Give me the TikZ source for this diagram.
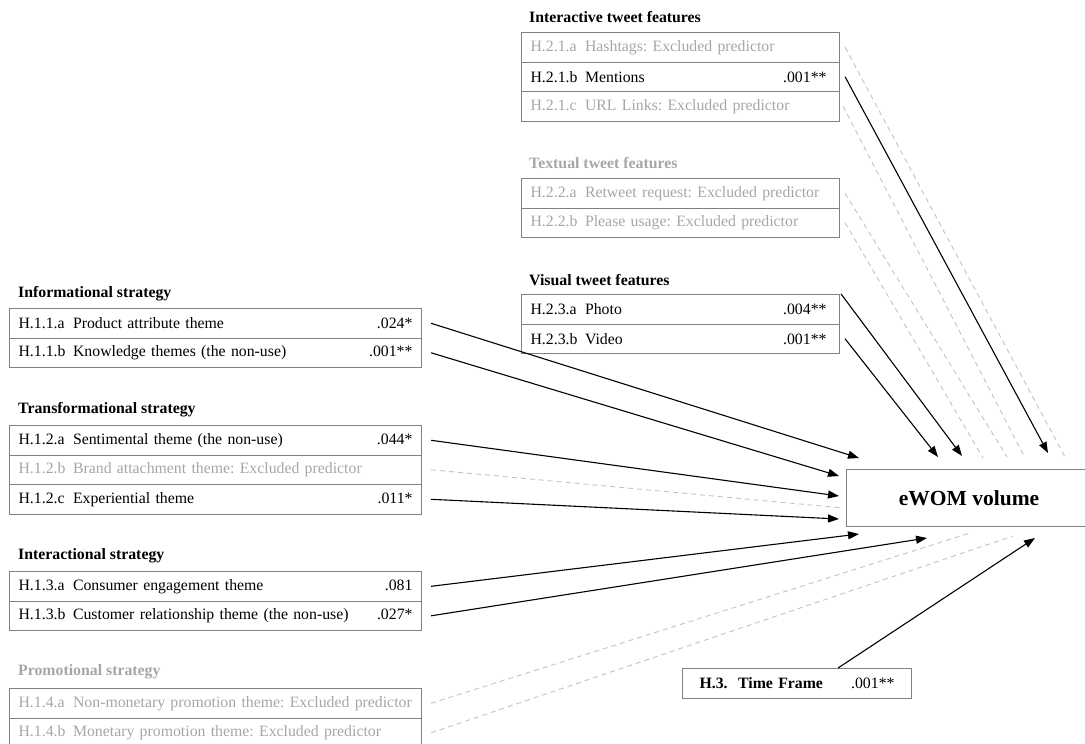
\documentclass[tikz,border=0pt]{standalone}
\usepackage{fontspec}
\setmainfont{Liberation Serif}
\usetikzlibrary{arrows.meta}
\definecolor{exclgray}{RGB}{166,166,166}
\definecolor{boxgray}{RGB}{128,128,128}
\definecolor{dashgray}{RGB}{195,195,195}
\newcommand{\hcode}[1]{\makebox[54.5pt][l]{#1}}
\newcommand{\hval}[1]{\hfill #1\kern13pt}
\frenchspacing

\begin{document}
\begin{tikzpicture}[x=1pt, y=-1pt,
    font=\fontsize{15.8}{18}\selectfont,
    rowbox/.style={draw=boxgray, line width=1.1pt, anchor=north west,
        inner xsep=9pt, inner ysep=0pt, minimum height=29.5pt},
    lrow/.style={rowbox, text width=394pt},
    rrow/.style={rowbox, inner xsep=0pt, text width=318pt, execute at begin node={\hspace*{9pt}}},
    exrow/.style={text=exclgray},
    gtitle/.style={anchor=west, inner sep=0pt,
        font=\fontsize{15.8}{18}\selectfont\bfseries},
    arr/.style={line width=1.1pt, -{Triangle[length=11pt,width=8pt]}},
    excl/.style={dashgray, line width=0.9pt, dash pattern=on 5pt off 4pt}]
    \useasboundingbox (0,0) rectangle (1085,744);

    % Strategy groups on the left
    \node[gtitle] (tinf) at (18,294) {Informational strategy};
    \node[lrow] (h11a) at (9,308) {\hcode{H.1.1.a}Product attribute theme\hfill .024*};
    \node[lrow] (h11b) at (9,337.5) {\hcode{H.1.1.b}Knowledge themes (the non-use)\hfill .001**};

    \node[gtitle] (ttra) at (18,410) {Transformational strategy};
    \node[lrow] (h12a) at (9,425) {\hcode{H.1.2.a}Sentimental theme (the non-use)\hfill .044*};
    \node[lrow, exrow] (h12b) at (9,454.5) {\hcode{H.1.2.b}Brand attachment theme: Excluded predictor};
    \node[lrow] (h12c) at (9,484) {\hcode{H.1.2.c}Experiential theme\hfill .011*};

    \node[gtitle] (tint) at (18,556) {Interactional strategy};
    \node[lrow] (h13a) at (9,571) {\hcode{H.1.3.a}Consumer engagement theme\hfill .081};
    \node[lrow] (h13b) at (9,600.5) {\hcode{H.1.3.b}Customer relationship theme (the non-use)\hfill .027*};

    \node[gtitle, text=exclgray] (tpro) at (18,672) {Promotional strategy};
    \node[lrow, exrow] (h14a) at (9,688) {\hcode{H.1.4.a}Non-monetary promotion theme: Excluded predictor};
    \node[lrow, exrow] (h14b) at (9,717.5) {\hcode{H.1.4.b}Monetary promotion theme: Excluded predictor};

    % Tweet feature groups at the top
    \node[gtitle] (tinr) at (529,17) {Interactive tweet features};
    \node[rrow, exrow] (h21a) at (521,32) {\hcode{H.2.1.a}Hashtags: Excluded predictor};
    \node[rrow] (h21b) at (521,61.5) {\hcode{H.2.1.b}Mentions\hval{.001**}};
    \node[rrow, exrow] (h21c) at (521,91) {\hcode{H.2.1.c}URL Links: Excluded predictor};

    \node[gtitle, text=exclgray] (ttxt) at (529,163) {Textual tweet features};
    \node[rrow, exrow] (h22a) at (521,178) {\hcode{H.2.2.a}Retweet request: Excluded predictor};
    \node[rrow, exrow] (h22b) at (521,207.5) {\hcode{H.2.2.b}Please usage: Excluded predictor};

    \node[gtitle] (tvis) at (529,280) {Visual tweet features};
    \node[rrow] (h23a) at (521,294) {\hcode{H.2.3.a}Photo\hval{.004**}};
    \node[rrow] (h23b) at (521,323.5) {\hcode{H.2.3.b}Video\hval{.001**}};

    % Outcome and time frame
    \node[draw=boxgray, line width=1.1pt, anchor=north west, minimum width=245pt,
        minimum height=57pt, font=\fontsize{21.5}{25}\selectfont\bfseries] (ewom) at (846,469) {eWOM volume};
    \node[rowbox, inner xsep=17pt, text width=195pt] (tf) at (682,668) {\textbf{H.3.\ \ Time Frame}\hfill .001**};

    % Arrow ends around the outcome box
    \coordinate (e11a) at (859,458);
    \coordinate (e11b) at (839,476);
    \coordinate (e12a) at (839,496);
    \coordinate (e12b) at (843,508);
    \coordinate (e12c) at (839,519);
    \coordinate (e13a) at (859,534);
    \coordinate (e13b) at (927,538);
    \coordinate (e14a) at (970,533);
    \coordinate (e14b) at (1013,536);
    \coordinate (e3) at (1035,538);
    \coordinate (e23b) at (938,457);
    \coordinate (e23a) at (962,456);
    \coordinate (e22b) at (983,458);
    \coordinate (e22a) at (1007,457);
    \coordinate (e21c) at (1025,458);
    \coordinate (e21b) at (1048,453);
    \coordinate (e21a) at (1065,457);

    % Connectors
    \draw[arr] ([xshift=9pt]h11a.east) -- (e11a);
    \draw[arr] ([xshift=9pt]h11b.east) -- (e11b);
    \draw[arr] ([xshift=9pt]h12a.east) -- (e12a);
    \draw[excl] ([xshift=9pt]h12b.east) -- (e12b);
    \draw[arr] ([xshift=9pt]h12c.east) -- (e12c);
    \draw[arr] ([xshift=9pt]h13a.east) -- (e13a);
    \draw[arr] ([xshift=9pt]h13b.east) -- (e13b);
    \draw[excl] ([xshift=9pt]h14a.east) -- (e14a);
    \draw[excl] ([xshift=9pt]h14b.east) -- (e14b);

    \draw[excl] ([xshift=5pt]h21a.east) -- (e21a);
    \draw[arr] ([xshift=5pt]h21b.east) -- (e21b);
    \draw[excl] ([xshift=3pt]h21c.east) -- (e21c);
    \draw[excl] ([xshift=5pt]h22a.east) -- (e22a);
    \draw[excl] ([xshift=5pt]h22b.east) -- (e22b);
    \draw[arr] ([xshift=1pt]h23a.north east) -- (e23a);
    \draw[arr] ([xshift=5pt]h23b.east) -- (e23b);

    \draw[arr] ([xshift=41pt]tf.north) -- (e3);
\end{tikzpicture}
\end{document}
